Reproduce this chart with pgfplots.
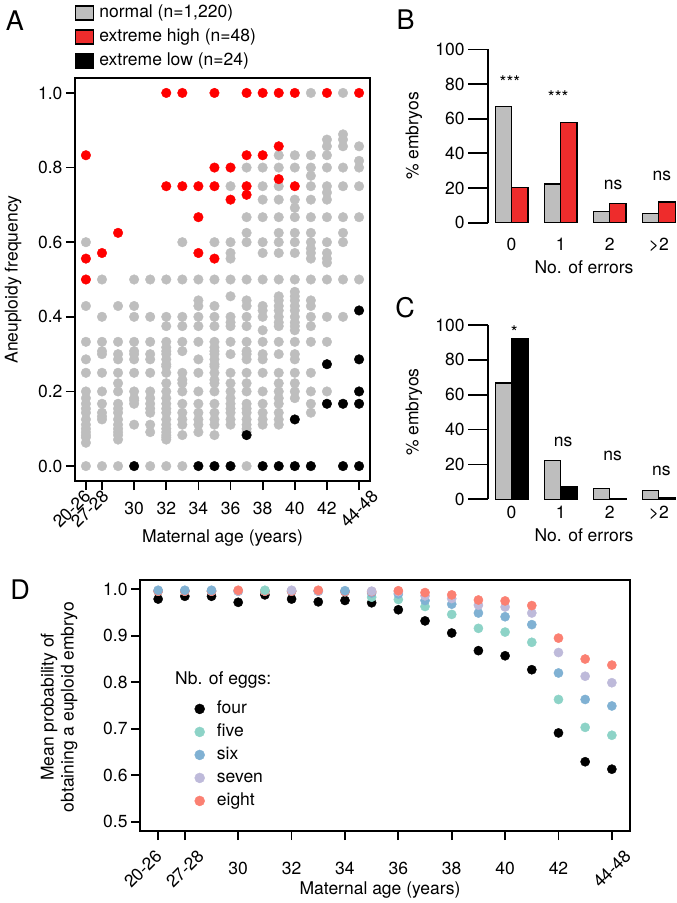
\documentclass[border=0pt]{standalone}
\usepackage{pgfplots}
\pgfplotsset{compat=1.18}
\usepackage{pgfplotstable}
\usepackage{graphicx}
\usepackage{fontspec}
\setmainfont{TeX Gyre Heros}

\definecolor{ngray}{RGB}{190,190,190}
\definecolor{ptred}{RGB}{255,0,0}
\definecolor{barred}{RGB}{238,44,44}
\definecolor{sfive}{HTML}{8DD3C7}
\definecolor{ssix}{HTML}{80B1D3}
\definecolor{sseven}{HTML}{BEBADA}
\definecolor{seight}{HTML}{FB8072}

\newcommand{\fs}{\fontsize{17.5bp}{21bp}\selectfont}
% rotated tick label, right edge at tick + #1, top raised by #2
\newcommand{\rlabR}[3]{\makebox[0pt][r]{\raisebox{\dimexpr-\height+#2\relax}[0pt][0pt]{\rotatebox{45}{#3}}\hspace*{-#1}}}
\newcommand{\rlabC}[2]{\makebox[0pt][c]{\raisebox{\dimexpr-\height+#1\relax}[0pt][0pt]{\rotatebox{45}{#2}}}}

\pgfplotstableread{
x y
0 0
0 0.0625
0 0.077
0 0.083
0 0.091
0 0.1
0 0.111
0 0.125
0 0.143
0 0.154
0 0.167
0 0.182
0 0.2
0 0.25
0 0.286
0 0.333
0 0.429
0 0.6
1 0
1 0.125
1 0.133
1 0.143
1 0.167
1 0.2
1 0.25
1 0.3
1 0.308
1 0.333
1 0.4
1 0.5
2 0
2 0.071
2 0.083
2 0.091
2 0.1
2 0.111
2 0.125
2 0.143
2 0.154
2 0.167
2 0.2
2 0.222
2 0.25
2 0.286
2 0.3
2 0.333
2 0.429
3 0.111
3 0.167
3 0.176
3 0.182
3 0.2
3 0.25
3 0.286
3 0.3
3 0.308
3 0.333
3 0.4
3 0.429
3 0.5
4 0
4 0.091
4 0.111
4 0.143
4 0.154
4 0.167
4 0.182
4 0.2
4 0.25
4 0.286
4 0.3
4 0.333
4 0.4
4 0.5
5 0
5 0.071
5 0.077
5 0.083
5 0.091
5 0.1
5 0.111
5 0.125
5 0.143
5 0.154
5 0.167
5 0.182
5 0.2
5 0.222
5 0.25
5 0.267
5 0.273
5 0.286
5 0.3
5 0.308
5 0.318
5 0.333
5 0.375
5 0.4
5 0.5
6 0
6 0.083
6 0.111
6 0.125
6 0.143
6 0.167
6 0.2
6 0.222
6 0.231
6 0.25
6 0.308
6 0.333
6 0.375
6 0.4
6 0.5
6 0.6
7 0.091
7 0.111
7 0.125
7 0.143
7 0.167
7 0.2
7 0.25
7 0.286
7 0.333
7 0.375
7 0.4
7 0.429
7 0.444
7 0.5
8 0.083
8 0.111
8 0.125
8 0.143
8 0.167
8 0.2
8 0.222
8 0.231
8 0.25
8 0.267
8 0.273
8 0.286
8 0.3
8 0.308
8 0.318
8 0.333
8 0.375
8 0.4
8 0.429
8 0.5
8 0.6
9 0.111
9 0.125
9 0.143
9 0.154
9 0.167
9 0.182
9 0.2
9 0.222
9 0.25
9 0.3
9 0.333
9 0.375
9 0.385
9 0.4
9 0.455
9 0.5
9 0.556
9 0.571
9 0.6
9 0.75
10 0
10 0.091
10 0.1
10 0.111
10 0.125
10 0.143
10 0.154
10 0.167
10 0.2
10 0.222
10 0.25
10 0.286
10 0.3
10 0.308
10 0.333
10 0.375
10 0.4
10 0.429
10 0.444
10 0.5
10 0.6
10 0.625
10 0.667
10 0.8
11 0.111
11 0.125
11 0.143
11 0.167
11 0.2
11 0.25
11 0.286
11 0.3
11 0.333
11 0.364
11 0.4
11 0.417
11 0.429
11 0.5
11 0.571
11 0.6
11 0.667
11 0.714
11 0.75
11 0.8
12 0.111
12 0.125
12 0.143
12 0.167
12 0.182
12 0.2
12 0.222
12 0.25
12 0.3
12 0.333
12 0.375
12 0.385
12 0.4
12 0.417
12 0.429
12 0.444
12 0.455
12 0.5
12 0.571
12 0.6
12 0.625
12 0.667
12 0.714
12 0.75
12 0.8
12 0.833
13 0.182
13 0.2
13 0.222
13 0.25
13 0.286
13 0.3
13 0.333
13 0.364
13 0.375
13 0.385
13 0.4
13 0.417
13 0.429
13 0.444
13 0.455
13 0.467
13 0.5
13 0.571
13 0.6
13 0.625
13 0.667
13 0.692
13 0.714
13 0.8
13 0.833
14 0.143
14 0.167
14 0.2
14 0.25
14 0.333
14 0.375
14 0.4
14 0.429
14 0.444
14 0.5
14 0.556
14 0.571
14 0.583
14 0.6
14 0.625
14 0.667
14 0.714
14 0.75
14 0.778
14 0.8
14 0.833
14 1
15 0.2
15 0.333
15 0.4
15 0.5
15 0.545
15 0.556
15 0.571
15 0.6
15 0.667
15 0.714
15 0.733
15 0.75
15 0.8
15 0.833
15 0.857
15 0.875
16 0.4
16 0.5
16 0.6
16 0.625
16 0.667
16 0.75
16 0.8
16 0.857
16 0.875
16 0.889
16 1
17 0.5
17 0.667
17 0.75
17 0.8
17 0.818
17 0.857
}\normaltab

\pgfplotstableread{
x y
0 0.833
0 0.556
0 0.5
1 0.571
2 0.625
5 1
5 0.75
6 1
6 0.75
7 0.75
7 0.667
7 0.571
8 1
8 0.8
8 0.75
8 0.556
9 0.8
9 0.714
10 1
10 0.833
10 0.75
10 0.727
11 1
11 0.833
12 1
12 0.857
12 0.769
13 1
13 0.75
15 1
17 1
}\hightab

\pgfplotstableread{
x y
3 0
7 0
8 0
9 0
11 0
12 0
13 0
14 0
16 0
17 0
10 0.083
13 0.125
15 0.273
15 0.167
16 0.167
17 0.167
17 0.2
17 0.286
17 0.417
}\lowtab

\pgfplotstableread{
x y c
0 0.979 a
0 0.996 b
0 0.996 d
0 0.996 e
0 0.998 c
1 0.985 a
1 0.996 b
1 0.996 d
1 0.996 e
1 0.998 c
2 0.985 a
2 0.996 b
2 0.996 d
2 0.996 e
2 0.998 c
3 0.972 a
3 0.996 b
3 0.996 c
3 0.996 d
3 0.998 e
4 0.988 a
4 0.996 c
4 0.996 d
4 0.996 e
4 0.998 b
5 0.979 a
5 0.996 b
5 0.996 c
5 0.996 e
5 0.998 d
6 0.973 a
6 0.996 b
6 0.996 c
6 0.996 d
6 0.998 e
7 0.976 a
7 0.995 b
7 0.995 d
7 0.995 e
7 0.997 c
8 0.971 a
8 0.983 b
8 0.992 c
8 0.995 e
8 0.996 d
9 0.956 a
9 0.978 b
9 0.990 c
9 0.995 d
9 0.997 e
10 0.932 a
10 0.963 b
10 0.976 c
10 0.986 d
10 0.993 e
11 0.906 a
11 0.946 b
11 0.968 c
11 0.980 d
11 0.988 e
12 0.868 a
12 0.916 b
12 0.949 c
12 0.966 d
12 0.977 e
13 0.857 a
13 0.908 b
13 0.941 c
13 0.962 d
13 0.975 e
14 0.827 a
14 0.886 b
14 0.924 c
14 0.949 d
14 0.965 e
15 0.691 a
15 0.763 b
15 0.820 c
15 0.864 d
15 0.895 e
16 0.629 a
16 0.703 b
16 0.763 c
16 0.813 d
16 0.850 e
17 0.613 a
17 0.686 b
17 0.749 c
17 0.799 d
17 0.837 e
}\probtab

\pgfplotsset{
  myaxis/.style={
    scale only axis, anchor=north west, clip=false,
    axis line style={line width=1.8bp},
    tick style={line width=1.8bp, black},
    tick align=outside,
    /pgf/number format/assume math mode=true,
    tick label style={font=\fs},
    label style={font=\fs},
  },
}

\begin{document}
\begin{tikzpicture}
\useasboundingbox (0,0) rectangle (677bp,-903bp);

% ---------------- Panel A ----------------
\begin{axis}[myaxis,
  at={(75bp,-78bp)}, width=295bp, height=403bp,
  xmin=-0.68, xmax=17.68, ymin=-0.04, ymax=1.04,
  major tick length=9bp, tick pos=left,
  xtick={0,1,3,5,7,9,11,13,15,17},
  xticklabels={\rlabR{6bp}{14bp}{20-26},\rlabR{8bp}{14bp}{27-28},30,32,34,36,38,40,42,\rlabC{14bp}{44-48}},
  xticklabel style={yshift=-9bp},
  ytick={0,0.2,0.4,0.6,0.8,1},
  yticklabel style={/pgf/number format/.cd, fixed, fixed zerofill, precision=1},
  xlabel={Maternal age (years)}, ylabel={Aneuploidy frequency},
  xlabel style={at={(axis description cs:0.5,-0.1414)}, anchor=center},
  ylabel style={at={(axis description cs:-0.210,0.5)}, anchor=center},
  legend style={at={(axis description cs:0,1.1868)}, anchor=north west,
    draw=none, fill=none, inner sep=0pt, font=\fs, row sep=4bp, column sep=3bp,
    nodes={inner sep=2bp, text height=12.5bp, text depth=3.5bp}},
  legend cell align=left,
]
\addplot[only marks, mark=*, mark size=4.8bp, color=ngray, forget plot] table {\normaltab};
\addplot[only marks, mark=*, mark size=4.8bp, color=ptred, forget plot] table {\hightab};
\addplot[only marks, mark=*, mark size=4.8bp, color=black, forget plot] table {\lowtab};
\addlegendimage{legend image code/.code={\draw[fill=ngray, draw=black, line width=1.2bp] (0bp,-7bp) rectangle (18bp,7bp);}}
\addlegendentry{normal (n=1,220)}
\addlegendimage{legend image code/.code={\draw[fill=barred, draw=black, line width=1.2bp] (0bp,-7bp) rectangle (18bp,7bp);}}
\addlegendentry{extreme high (n=48)}
\addlegendimage{legend image code/.code={\draw[fill=black, draw=black, line width=1.2bp] (0bp,-7bp) rectangle (18bp,7bp);}}
\addlegendentry{extreme low (n=24)}
\end{axis}

% ---------------- Panel B ----------------
\begin{axis}[myaxis,
  at={(488bp,-49.4bp)}, width=189bp, height=173.3bp,
  xmin=0.56, xmax=12.11, ymin=0, ymax=100,
  axis lines*=left, x axis line style={draw=none},
  major tick length=20bp, xtick style={draw=none},
  xtick={2,5,8,11}, xticklabels={0,1,2,>2},
  ytick={0,20,40,60,80,100},
  xticklabel style={yshift=8bp},
  xlabel={No. of errors}, ylabel={\% embryos},
  xlabel style={at={(axis description cs:0.508,-0.2556)}, anchor=center},
  ylabel style={at={(axis description cs:-0.3915,0.5)}, anchor=center},
]
\addplot[ybar, bar width=1, bar shift=0pt, fill=ngray, draw=black, line width=1.3bp] coordinates {(1.5,66.9) (4.5,22.3) (7.5,6.5) (10.5,5.2)};
\addplot[ybar, bar width=1, bar shift=0pt, fill=barred, draw=black, line width=1.3bp] coordinates {(2.5,20.4) (5.5,57.9) (8.5,11.0) (11.5,11.9)};
\node[anchor=base, font=\fs] at (axis cs:1.9,77.4) {***};
\node[anchor=base, font=\fs] at (axis cs:4.85,68.8) {***};
\node[anchor=base, font=\fs] at (axis cs:8.2,19.4) {ns};
\node[anchor=base, font=\fs] at (axis cs:11.19,24.6) {ns};
\end{axis}

% ---------------- Panel C ----------------
\begin{axis}[myaxis,
  at={(488bp,-325bp)}, width=189bp, height=174.3bp,
  xmin=0.56, xmax=12.11, ymin=0, ymax=100,
  axis lines*=left, x axis line style={draw=none},
  major tick length=20bp, xtick style={draw=none},
  xtick={2,5,8,11}, xticklabels={0,1,2,>2},
  ytick={0,20,40,60,80,100},
  xticklabel style={yshift=17bp},
  xlabel={No. of errors}, ylabel={\% embryos},
  xlabel style={at={(axis description cs:0.508,-0.2065)}, anchor=center},
  ylabel style={at={(axis description cs:-0.3915,0.5)}, anchor=center},
]
\addplot[ybar, bar width=1, bar shift=0pt, fill=ngray, draw=black, line width=1.3bp] coordinates {(1.5,66.7) (4.5,22.2) (7.5,6.4) (10.5,5.2)};
\addplot[ybar, bar width=1, bar shift=0pt, fill=black, draw=black, line width=1.3bp] coordinates {(2.5,92.0) (5.5,7.3) (8.5,0.4) (11.5,0.8)};
\node[anchor=base, font=\fs] at (axis cs:2.16,92.4) {*};
\node[anchor=base, font=\fs] at (axis cs:5.15,30.2) {ns};
\node[anchor=base, font=\fs] at (axis cs:8.17,22.1) {ns};
\node[anchor=base, font=\fs] at (axis cs:11.16,13.9) {ns};
\end{axis}

% ---------------- Panel D ----------------
\begin{axis}[myaxis,
  at={(140bp,-580bp)}, width=490bp, height=251bp,
  xmin=-0.68, xmax=17.68, ymin=0.48, ymax=1.02,
  major tick length=9bp, tick pos=left,
  xtick={0,1,3,5,7,9,11,13,15,17},
  xticklabels={\rlabR{5bp}{14bp}{20-26},\rlabC{14bp}{27-28},30,32,34,36,38,40,42,\rlabC{14bp}{44-48}},
  xticklabel style={yshift=-19bp},
  ytick={0.5,0.6,0.7,0.8,0.9,1},
  yticklabel style={/pgf/number format/.cd, fixed, fixed zerofill, precision=1},
  xlabel={Maternal age (years)},
  ylabel={Mean probability of\\obtaining a euploid embryo},
  xlabel style={at={(axis description cs:0.4898,-0.235)}, anchor=center},
  ylabel style={at={(axis description cs:-0.1653,0.494)}, anchor=center, align=center, font=\fontsize{17.5bp}{20bp}\selectfont},
  legend style={at={(axis description cs:0.1108,0.527)}, anchor=north west,
    draw=none, fill=none, inner sep=0pt, font=\fs, row sep=3bp, column sep=10bp,
    nodes={inner sep=2bp, text height=12.5bp, text depth=3.5bp}},
  legend cell align=left,
]
\addplot[scatter, only marks, mark size=4.6bp, scatter src=explicit symbolic,
  scatter/classes={a={mark=*,black},b={mark=*,sfive},c={mark=*,ssix},d={mark=*,sseven},e={mark=*,seight}},
  forget plot] table[x=x, y=y, meta=c] {\probtab};
\addlegendimage{legend image code/.code={\fill[black] (0bp,0bp) circle (5bp);}}
\addlegendentry{four}
\addlegendimage{legend image code/.code={\fill[sfive] (0bp,0bp) circle (5bp);}}
\addlegendentry{five}
\addlegendimage{legend image code/.code={\fill[ssix] (0bp,0bp) circle (5bp);}}
\addlegendentry{six}
\addlegendimage{legend image code/.code={\fill[sseven] (0bp,0bp) circle (5bp);}}
\addlegendentry{seven}
\addlegendimage{legend image code/.code={\fill[seight] (0bp,0bp) circle (5bp);}}
\addlegendentry{eight}
\node[anchor=west, font=\fs] at (axis description cs:0.0647,0.6016) {Nb. of eggs:};
\end{axis}

% panel letters
\node[font=\fontsize{27bp}{27bp}\selectfont] at (15bp,-21bp) {A};
\node[font=\fontsize{27bp}{27bp}\selectfont] at (405.5bp,-19.7bp) {B};
\node[font=\fontsize{27bp}{27bp}\selectfont] at (405bp,-308bp) {C};
\node[font=\fontsize{27bp}{27bp}\selectfont] at (20bp,-590bp) {D};
\end{tikzpicture}
\end{document}
